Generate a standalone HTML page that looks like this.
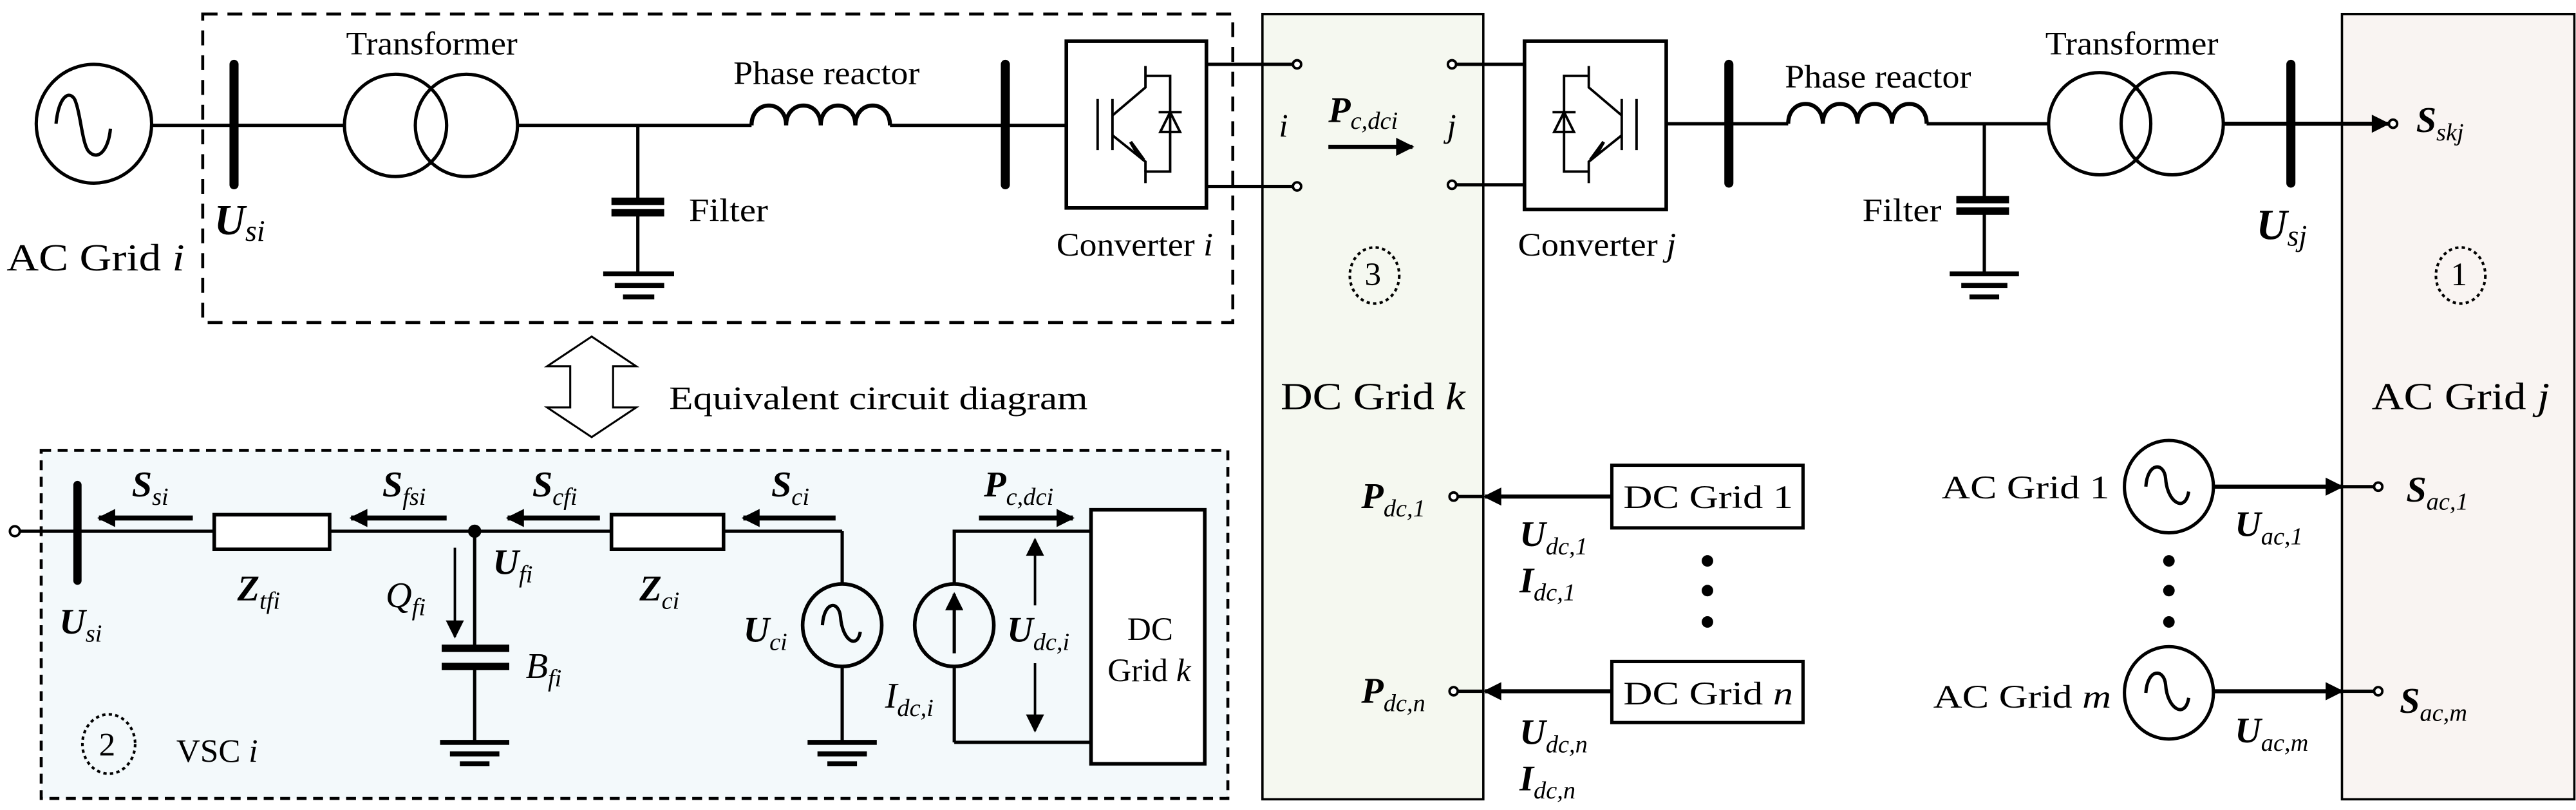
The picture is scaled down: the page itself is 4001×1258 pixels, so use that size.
<!DOCTYPE html>
<html><head><meta charset="utf-8"><style>
html,body{margin:0;padding:0;background:#fff}
svg{display:block}
text{font-family:"Liberation Serif","Times New Roman",Times,serif;fill:#000}
.t{font-size:20px}
.L{font-size:23px}
.m{font-size:22px;font-weight:bold;font-style:italic}
.s{font-size:15px;font-weight:normal;font-style:italic}
.it{font-style:italic}
</style></head><body>
<svg width="4001" height="1258" viewBox="0 0 1563 491" preserveAspectRatio="none" xmlns="http://www.w3.org/2000/svg" font-family="Liberation Serif, Times New Roman, serif">
<defs>
<marker id="ah" viewBox="0 0 10 10" refX="9" refY="5" markerWidth="13" markerHeight="11" orient="auto" markerUnits="userSpaceOnUse">
<path d="M0,0 L10,5 L0,10 z" fill="#000"/></marker>
</defs>
<g stroke="#000" fill="none" stroke-width="2">
<rect x="766" y="8.5" width="134" height="476" fill="#f5f8f0" stroke-width="1.4"/>
<rect x="1421" y="8.5" width="141" height="476" fill="#f9f4f2" stroke-width="1.4"/>
<rect x="25" y="273" width="720" height="211" fill="#f3f9fb" stroke-dasharray="6,4" stroke-width="1.8"/>
<rect x="123" y="8.5" width="625" height="187" stroke-dasharray="9,6" stroke-width="1.8"/>

<ellipse cx="57" cy="75" rx="35" ry="36"/>
<path d="M34,75 C36,55 44,55 46,62 C49,70 50,88 54,92 C60,98 66,90 67,78"/>
<line x1="92" y1="76" x2="209" y2="76"/>
<line x1="142" y1="39" x2="142" y2="112" stroke-width="5.5" stroke-linecap="round"/>
<circle cx="240" cy="76" r="31"/>
<circle cx="283" cy="76" r="31"/>
<line x1="314" y1="76" x2="456" y2="76"/>
<path d="M456,76 C456,60 477,60 477,76 C477,60 498,60 498,76 C498,60 519,60 519,76 C519,60 540,60 540,76" stroke-width="2.5"/>
<line x1="540" y1="76" x2="647" y2="76"/>
<line x1="387" y1="76" x2="387" y2="122"/>
<line x1="371" y1="122" x2="403" y2="122" stroke-width="4.5"/>
<line x1="371" y1="129" x2="403" y2="129" stroke-width="4.5"/>
<line x1="387" y1="129" x2="387" y2="166"/>
<line x1="366" y1="166" x2="409" y2="166" stroke-width="3"/>
<line x1="373" y1="173" x2="403" y2="173" stroke-width="3"/>
<line x1="378" y1="180" x2="397" y2="180" stroke-width="3"/>
<line x1="610" y1="39" x2="610" y2="112" stroke-width="5.5" stroke-linecap="round"/>
<rect x="647" y="25" width="85" height="101" stroke-width="2.2"/>
<line x1="666" y1="60" x2="666" y2="91" stroke-width="1.5"/>
<line x1="675" y1="60" x2="675" y2="91" stroke-width="1.5"/>
<path d="M675,70 L695,53 L695,40" stroke-width="1.5"/>
<path d="M695,46 L710,46 L710,104 L695,104 L695,111" stroke-width="1.5"/>
<path d="M675,82 L695,98 L695,104" stroke-width="1.5"/>
<path d="M694,97 L686,86 L690,93 z" fill="#000"/>
<path d="M704,80 L716,80 L710,68 z" stroke-width="1.5"/>
<line x1="703" y1="68" x2="717" y2="68" stroke-width="1.5"/>
<line x1="732" y1="39" x2="785" y2="39"/>
<line x1="732" y1="113" x2="785" y2="113"/>
<circle cx="787" cy="39" r="2.5" fill="#fff" stroke-width="1.5"/>
<circle cx="787" cy="113" r="2.5" fill="#fff" stroke-width="1.5"/>
<line x1="806" y1="89" x2="857" y2="89" stroke-width="2.5" marker-end="url(#ah)"/>

<path d="M359,204 L386,222 L372,222 L372,247 L386,247 L359,265 L332,247 L346,247 L346,222 L332,222 z" fill="#fff" stroke-width="1.2"/>

<circle cx="9" cy="322" r="3" fill="#fff" stroke-width="1.5"/>
<line x1="12" y1="322" x2="130" y2="322"/>
<line x1="47" y1="294" x2="47" y2="352" stroke-width="5" stroke-linecap="round"/>
<rect x="130" y="312" width="70" height="21" fill="#fff" stroke-width="2.2"/>
<line x1="200" y1="322" x2="371" y2="322"/>
<rect x="371" y="312" width="68" height="21" fill="#fff" stroke-width="2.2"/>
<line x1="439" y1="322" x2="511" y2="322"/>
<circle cx="288" cy="322" r="3" fill="#000"/>
<line x1="117" y1="314" x2="60" y2="314" stroke-width="3" marker-end="url(#ah)"/>
<line x1="271" y1="314" x2="213" y2="314" stroke-width="3" marker-end="url(#ah)"/>
<line x1="364" y1="314" x2="308" y2="314" stroke-width="3" marker-end="url(#ah)"/>
<line x1="507" y1="314" x2="451" y2="314" stroke-width="3" marker-end="url(#ah)"/>
<line x1="594" y1="314" x2="651" y2="314" stroke-width="3" marker-end="url(#ah)"/>
<line x1="288" y1="322" x2="288" y2="393"/>
<line x1="268" y1="393" x2="309" y2="393" stroke-width="4.5"/>
<line x1="268" y1="404" x2="309" y2="404" stroke-width="4.5"/>
<line x1="288" y1="404" x2="288" y2="450"/>
<line x1="267" y1="450" x2="309" y2="450" stroke-width="3"/>
<line x1="273" y1="457" x2="303" y2="457" stroke-width="3"/>
<line x1="279" y1="463" x2="297" y2="463" stroke-width="3"/>
<line x1="276" y1="332" x2="276" y2="386" stroke-width="1.5" marker-end="url(#ah)"/>
<line x1="511" y1="322" x2="511" y2="355"/>
<ellipse cx="511" cy="379" rx="24" ry="25" stroke-width="2.2"/>
<path d="M499,379 C500,364 509,364 510,374 C511,388 520,394 522,383"/>
<line x1="511" y1="404" x2="511" y2="450"/>
<line x1="490" y1="450" x2="532" y2="450" stroke-width="3"/>
<line x1="496" y1="457" x2="526" y2="457" stroke-width="3"/>
<line x1="502" y1="463" x2="520" y2="463" stroke-width="3"/>
<path d="M662,322 L579,322 L579,355"/>
<ellipse cx="579" cy="379" rx="24" ry="25" stroke-width="2.2"/>
<line x1="579" y1="404" x2="579" y2="450"/>
<line x1="579" y1="450" x2="662" y2="450"/>
<line x1="579" y1="396" x2="579" y2="360" stroke-width="2" marker-end="url(#ah)"/>
<line x1="628" y1="367" x2="628" y2="327" stroke-width="1.5" marker-end="url(#ah)"/>
<line x1="628" y1="402" x2="628" y2="443" stroke-width="1.5" marker-end="url(#ah)"/>
<rect x="662" y="309" width="69" height="154" fill="#fff" stroke-width="2.2"/>
<ellipse cx="66" cy="451" rx="16" ry="18" stroke-dasharray="2,2" stroke-width="1.6"/>

<circle cx="881" cy="39" r="2.5" fill="#fff" stroke-width="1.5"/>
<circle cx="881" cy="112" r="2.5" fill="#fff" stroke-width="1.5"/>
<line x1="884" y1="39" x2="925" y2="39"/>
<line x1="884" y1="112" x2="925" y2="112"/>
<rect x="925" y="25" width="86" height="102" stroke-width="2.2"/>
<line x1="993" y1="60" x2="993" y2="91" stroke-width="1.5"/>
<line x1="984" y1="60" x2="984" y2="91" stroke-width="1.5"/>
<path d="M984,70 L964,53 L964,40" stroke-width="1.5"/>
<path d="M964,46 L949,46 L949,104 L964,104 L964,111" stroke-width="1.5"/>
<path d="M984,82 L964,98 L964,104" stroke-width="1.5"/>
<path d="M965,97 L973,86 L969,93 z" fill="#000"/>
<path d="M943,80 L955,80 L949,68 z" stroke-width="1.5"/>
<line x1="942" y1="68" x2="956" y2="68" stroke-width="1.5"/>
<line x1="1011" y1="75" x2="1085" y2="75"/>
<line x1="1049" y1="39" x2="1049" y2="111" stroke-width="5.5" stroke-linecap="round"/>
<path d="M1085,75 C1085,59 1106,59 1106,75 C1106,59 1127,59 1127,75 C1127,59 1148,59 1148,75 C1148,59 1169,59 1169,75" stroke-width="2.5"/>
<line x1="1169" y1="75" x2="1244" y2="75"/>
<line x1="1204" y1="75" x2="1204" y2="121"/>
<line x1="1187" y1="121" x2="1219" y2="121" stroke-width="4.5"/>
<line x1="1187" y1="128" x2="1219" y2="128" stroke-width="4.5"/>
<line x1="1204" y1="128" x2="1204" y2="166"/>
<line x1="1183" y1="166" x2="1225" y2="166" stroke-width="3"/>
<line x1="1190" y1="173" x2="1218" y2="173" stroke-width="3"/>
<line x1="1195" y1="180" x2="1213" y2="180" stroke-width="3"/>
<circle cx="1274" cy="75" r="31"/>
<circle cx="1318" cy="75" r="31"/>
<line x1="1349" y1="75" x2="1449" y2="75" stroke-width="2.5" marker-end="url(#ah)"/>
<circle cx="1452" cy="75" r="2.5" fill="#fff" stroke-width="1.5"/>
<line x1="1390" y1="39" x2="1390" y2="111" stroke-width="5.5" stroke-linecap="round"/>
<ellipse cx="834" cy="167" rx="15" ry="17" stroke-dasharray="2,2" stroke-width="1.6"/>
<ellipse cx="1493" cy="167" rx="15" ry="17" stroke-dasharray="2,2" stroke-width="1.6"/>

<rect x="978" y="282" width="116" height="38" fill="#fff" stroke-width="2"/>
<rect x="978" y="401" width="116" height="37" fill="#fff" stroke-width="2"/>
<line x1="978" y1="301" x2="901" y2="301" stroke-width="2.5" marker-end="url(#ah)"/>
<line x1="978" y1="419" x2="901" y2="419" stroke-width="2.5" marker-end="url(#ah)"/>
<line x1="884" y1="301" x2="900" y2="301"/>
<line x1="884" y1="419" x2="900" y2="419"/>
<circle cx="882" cy="301" r="2.5" fill="#fff" stroke-width="1.5"/>
<circle cx="882" cy="419" r="2.5" fill="#fff" stroke-width="1.5"/>
<ellipse cx="1316" cy="295" rx="27" ry="28" stroke-width="2"/>
<path d="M1302,295 C1303,280 1313,280 1314,290 C1315,305 1326,311 1328,298"/>
<ellipse cx="1316" cy="420" rx="27" ry="28" stroke-width="2"/>
<path d="M1302,420 C1303,405 1313,405 1314,415 C1315,430 1326,436 1328,423"/>
<line x1="1343" y1="295" x2="1421" y2="295" stroke-width="2.5" marker-end="url(#ah)"/>
<line x1="1343" y1="419" x2="1421" y2="419" stroke-width="2.5" marker-end="url(#ah)"/>
<line x1="1421" y1="295" x2="1440" y2="295"/>
<line x1="1421" y1="419" x2="1440" y2="419"/>
<circle cx="1443" cy="295" r="2.5" fill="#fff" stroke-width="1.5"/>
<circle cx="1443" cy="419" r="2.5" fill="#fff" stroke-width="1.5"/>
</g>
<g fill="#000">
<circle cx="1036" cy="340" r="3.5"/><circle cx="1036" cy="358" r="3.5"/><circle cx="1036" cy="377" r="3.5"/>
<circle cx="1316" cy="340" r="3.5"/><circle cx="1316" cy="358" r="3.5"/><circle cx="1316" cy="377" r="3.5"/>
</g>

<text class="t" x="210" y="33" textLength="104" lengthAdjust="spacingAndGlyphs">Transformer</text>
<text class="t" x="445" y="51" textLength="113" lengthAdjust="spacingAndGlyphs">Phase reactor</text>
<text class="t" x="418" y="134" textLength="48" lengthAdjust="spacingAndGlyphs">Filter</text>
<text class="t" x="641" y="155" textLength="95" lengthAdjust="spacingAndGlyphs">Converter <tspan class="it">i</tspan></text>
<text class="L" x="4" y="164" textLength="108" lengthAdjust="spacingAndGlyphs">AC Grid <tspan class="it">i</tspan></text>
<text class="m" x="130" y="142" style="font-size:26px">U<tspan class="s" dy="4" style="font-size:18px">si</tspan></text>
<text class="t it" x="776" y="83">i</text>
<text class="t it" x="878" y="83">j</text>
<text class="m" x="806" y="74">P<tspan class="s" dy="4">c,dci</tspan></text>
<text class="t" x="406" y="248" textLength="254" lengthAdjust="spacingAndGlyphs">Equivalent circuit diagram</text>

<text class="m" x="80" y="301">S<tspan class="s" dy="5">si</tspan></text>
<text class="m" x="232" y="301">S<tspan class="s" dy="5">fsi</tspan></text>
<text class="m" x="323" y="301">S<tspan class="s" dy="5">cfi</tspan></text>
<text class="m" x="468" y="301">S<tspan class="s" dy="5">ci</tspan></text>
<text class="m" x="597" y="301">P<tspan class="s" dy="5">c,dci</tspan></text>
<text class="m" x="36" y="384">U<tspan class="s" dy="5">si</tspan></text>
<text class="m" x="144" y="364">Z<tspan class="s" dy="5">tfi</tspan></text>
<text class="m" x="388" y="364">Z<tspan class="s" dy="5">ci</tspan></text>
<text class="m" x="299" y="348">U<tspan class="s" dy="5">fi</tspan></text>
<text x="234" y="368" style="font-size:22px;font-style:italic">Q<tspan class="s" dy="5">fi</tspan></text>
<text x="319" y="411" style="font-size:22px;font-style:italic">B<tspan class="s" dy="5">fi</tspan></text>
<text class="m" x="451" y="389">U<tspan class="s" dy="5">ci</tspan></text>
<text class="m" x="611" y="389">U<tspan class="s" dy="5">dc,i</tspan></text>
<text x="537" y="429" style="font-size:22px;font-style:italic">I<tspan class="s" dy="5">dc,i</tspan></text>
<text class="t" x="684" y="388">DC</text>
<text class="t" x="672" y="413">Grid <tspan class="it">k</tspan></text>
<text class="t" x="60" y="458">2</text>
<text class="t" x="107" y="462">VSC <tspan class="it">i</tspan></text>

<text class="t" x="1241" y="33" textLength="105" lengthAdjust="spacingAndGlyphs">Transformer</text>
<text class="t" x="1083" y="53" textLength="113" lengthAdjust="spacingAndGlyphs">Phase reactor</text>
<text class="t" x="1130" y="134" textLength="48" lengthAdjust="spacingAndGlyphs">Filter</text>
<text class="t" x="921" y="155" textLength="96" lengthAdjust="spacingAndGlyphs">Converter <tspan class="it">j</tspan></text>
<text class="m" x="1369" y="145" style="font-size:26px">U<tspan class="s" dy="4" style="font-size:18px">sj</tspan></text>
<text class="m" x="1466" y="80">S<tspan class="s" dy="5">skj</tspan></text>
<text class="t" x="828" y="173">3</text>
<text class="t" x="1487" y="173">1</text>
<text class="L" x="777" y="248" textLength="112" lengthAdjust="spacingAndGlyphs">DC Grid <tspan class="it">k</tspan></text>
<text class="L" x="1439" y="248" textLength="108" lengthAdjust="spacingAndGlyphs">AC Grid <tspan class="it">j</tspan></text>
<text class="t" x="985" y="308" textLength="103" lengthAdjust="spacingAndGlyphs">DC Grid 1</text>
<text class="t" x="985" y="427" textLength="103" lengthAdjust="spacingAndGlyphs">DC Grid <tspan class="it">n</tspan></text>
<text class="m" x="826" y="308">P<tspan class="s" dy="5">dc,1</tspan></text>
<text class="m" x="826" y="426">P<tspan class="s" dy="5">dc,n</tspan></text>
<text class="m" x="922" y="331">U<tspan class="s" dy="5">dc,1</tspan></text>
<text class="m" x="922" y="359">I<tspan class="s" dy="5">dc,1</tspan></text>
<text class="m" x="922" y="451">U<tspan class="s" dy="5">dc,n</tspan></text>
<text class="m" x="922" y="479">I<tspan class="s" dy="5">dc,n</tspan></text>
<text class="t" x="1178" y="302" textLength="102" lengthAdjust="spacingAndGlyphs">AC Grid 1</text>
<text class="t" x="1173" y="429" textLength="108" lengthAdjust="spacingAndGlyphs">AC Grid <tspan class="it">m</tspan></text>
<text class="m" x="1356" y="325">U<tspan class="s" dy="5">ac,1</tspan></text>
<text class="m" x="1356" y="450">U<tspan class="s" dy="5">ac,m</tspan></text>
<text class="m" x="1460" y="304">S<tspan class="s" dy="5">ac,1</tspan></text>
<text class="m" x="1456" y="432">S<tspan class="s" dy="5">ac,m</tspan></text>
</svg>
</body></html>
